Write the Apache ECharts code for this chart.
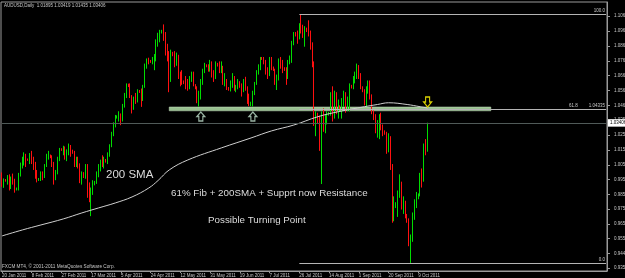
<!DOCTYPE html>
<html><head><meta charset="utf-8">
<script src="https://cdn.jsdelivr.net/npm/echarts@6/dist/echarts.min.js"></script>
<style>html,body{margin:0;padding:0;background:#000;}#c{width:625px;height:278px;}</style>
</head><body><div id="c"></div>
<script>
// ---------- data ----------
const headerText = 'AUDUSD,Daily  1.01895 1.03419 1.01435 1.03406';
const slotCount = 326; // bars on the time axis (incl. empty right margin)
const xTickLabels = ['20 Jan 2011','8 Feb 2011','27 Feb 2011','17 Mar 2011','5 Apr 2011','24 Apr 2011','12 May 2011','31 May 2011','19 Jun 2011','7 Jul 2011','26 Jul 2011','14 Aug 2011','1 Sep 2011','20 Sep 2011','9 Oct 2011'];
const yTickLabels = ['1.10690','1.09670','1.08650','1.07630','1.06640','1.05620','1.04600','1.03590','1.02590','1.01570','1.00550','0.99540','0.98540','0.97520','0.96530','0.95530','0.94490','0.93500'];
const currentPrice = 1.03406;

const opens = [0.9995,0.9915,0.9950,0.9945,0.9968,0.9902,0.9960,0.9935,0.9890,0.9895,
 0.9990,1.0055,1.0095,1.0100,1.0090,1.0088,1.0110,1.0070,1.0060,0.9985,
 0.9955,0.9960,0.9990,0.9975,1.0050,1.0115,1.0120,1.0108,1.0060,0.9960,
 1.0000,1.0095,1.0160,1.0155,1.0165,1.0110,1.0145,1.0180,1.0150,1.0140,
 1.0075,1.0085,1.0050,0.9960,0.9990,0.9975,1.0045,0.9900,0.9850,0.9880,
 0.9930,0.9940,0.9995,1.0050,1.0080,1.0065,1.0085,1.0078,1.0130,1.0185,
 1.0270,1.0335,1.0380,1.0385,1.0395,1.0360,1.0460,1.0530,1.0600,1.0592,
 1.0525,1.0440,1.0510,1.0500,1.0560,1.0550,1.0520,1.0590,1.0730,1.0765,
 1.0760,1.0755,1.0770,1.0800,1.0900,1.0925,1.0960,1.0968,1.0935,1.0830,
 1.0800,1.0640,1.0810,1.0805,1.0760,1.0800,1.0660,1.0640,1.0620,1.0615,
 1.0610,1.0580,1.0650,1.0670,1.0600,1.0580,1.0520,1.0540,1.0620,1.0700,
 1.0730,1.0725,1.0710,1.0710,1.0680,1.0650,1.0740,1.0735,1.0700,1.0720,
 1.0620,1.0630,1.0575,1.0570,1.0610,1.0650,1.0570,1.0590,1.0620,1.0590,
 1.0560,1.0630,1.0580,1.0490,1.0470,1.0480,1.0545,1.0610,1.0690,1.0720,
 1.0780,1.0775,1.0760,1.0690,1.0670,1.0780,1.0720,1.0700,1.0620,1.0640,
 1.0760,1.0750,1.0710,1.0700,1.0650,1.0760,1.0770,1.0890,1.0950,1.0940,
 1.0920,1.1000,1.0970,1.0950,1.0980,1.0965,1.0960,1.0870,1.0750,1.0350,
 1.0400,1.0360,1.0180,1.0400,1.0330,1.0380,1.0400,1.0405,1.0530,1.0390,
 1.0540,1.0420,1.0450,1.0440,1.0480,1.0540,1.0440,1.0500,1.0590,1.0585,
 1.0650,1.0660,1.0720,1.0660,1.0580,1.0560,1.0480,1.0560,1.0610,1.0520,
 1.0420,1.0380,1.0300,1.0330,1.0390,1.0310,1.0280,1.0265,1.0160,1.0240,
 1.0050,0.9720,0.9780,0.9790,0.9850,0.9900,0.9780,0.9800,0.9710,0.9680,
 0.9520,0.9570,0.9710,0.9800,0.9830,0.9850,0.9985,0.9960,1.0180,1.0190];

const highs = [1.0003,0.9962,0.9958,0.9985,0.9990,0.9975,0.9995,0.9960,0.9900,1.0000,
 1.0070,1.0110,1.0140,1.0130,1.0098,1.0135,1.0150,1.0110,1.0075,1.0020,
 0.9965,1.0010,1.0010,1.0060,1.0130,1.0150,1.0125,1.0120,1.0075,1.0020,
 1.0110,1.0170,1.0168,1.0185,1.0180,1.0160,1.0200,1.0190,1.0158,1.0150,
 1.0110,1.0110,1.0065,1.0010,1.0005,1.0060,1.0060,0.9935,0.9900,0.9950,
 0.9945,1.0010,1.0060,1.0090,1.0120,1.0110,1.0095,1.0140,1.0195,1.0280,
 1.0345,1.0395,1.0392,1.0420,1.0405,1.0470,1.0545,1.0610,1.0608,1.0610,
 1.0530,1.0520,1.0545,1.0570,1.0565,1.0575,1.0600,1.0745,1.0780,1.0785,
 1.0770,1.0790,1.0810,1.0910,1.0955,1.0975,1.0975,1.1012,1.0960,1.0880,
 1.0830,1.0840,1.0825,1.0830,1.0820,1.0805,1.0690,1.0700,1.0630,1.0660,
 1.0640,1.0660,1.0690,1.0690,1.0605,1.0590,1.0560,1.0640,1.0710,1.0750,
 1.0740,1.0740,1.0770,1.0760,1.0700,1.0760,1.0750,1.0760,1.0760,1.0730,
 1.0680,1.0640,1.0585,1.0630,1.0680,1.0660,1.0600,1.0640,1.0625,1.0610,
 1.0640,1.0655,1.0590,1.0540,1.0485,1.0560,1.0620,1.0700,1.0740,1.0790,
 1.0790,1.0790,1.0770,1.0720,1.0790,1.0790,1.0725,1.0710,1.0670,1.0780,
 1.0790,1.0770,1.0720,1.0720,1.0770,1.0800,1.0900,1.0960,1.0960,1.0970,
 1.1020,1.1081,1.1010,1.1000,1.0990,1.1040,1.0970,1.0890,1.0760,1.0420,
 1.0410,1.0390,1.0420,1.0440,1.0400,1.0420,1.0415,1.0550,1.0590,1.0560,
 1.0550,1.0500,1.0460,1.0510,1.0560,1.0550,1.0520,1.0610,1.0600,1.0660,
 1.0690,1.0745,1.0735,1.0680,1.0590,1.0570,1.0590,1.0630,1.0630,1.0535,
 1.0425,1.0400,1.0360,1.0400,1.0410,1.0330,1.0290,1.0280,1.0270,1.0250,
 1.0060,0.9840,0.9800,0.9880,0.9990,0.9940,0.9840,0.9810,0.9720,0.9690,
 0.9580,0.9730,0.9820,0.9870,0.9860,1.0000,1.0030,1.0200,1.0230,1.0342];

const lows = [0.9905,0.9898,0.9940,0.9920,0.9880,0.9890,0.9920,0.9865,0.9880,0.9880,
 0.9975,1.0030,1.0050,1.0040,1.0082,1.0060,1.0060,1.0020,0.9960,0.9935,
 0.9945,0.9945,0.9950,0.9965,1.0040,1.0090,1.0100,1.0040,0.9920,0.9950,
 0.9990,1.0080,1.0150,1.0120,1.0090,1.0080,1.0120,1.0110,1.0130,1.0040,
 1.0040,1.0030,0.9930,0.9920,0.9965,0.9960,0.9830,0.9800,0.9705,0.9850,
 0.9915,0.9925,0.9970,1.0010,1.0040,1.0030,1.0070,1.0060,1.0110,1.0175,
 1.0250,1.0310,1.0370,1.0350,1.0325,1.0350,1.0445,1.0510,1.0585,1.0510,
 1.0405,1.0430,1.0470,1.0480,1.0545,1.0450,1.0490,1.0580,1.0710,1.0740,
 1.0750,1.0740,1.0700,1.0760,1.0860,1.0890,1.0950,1.0900,1.0800,1.0760,
 1.0550,1.0620,1.0795,1.0720,1.0730,1.0640,1.0590,1.0600,1.0605,1.0570,
 1.0560,1.0570,1.0620,1.0590,1.0570,1.0475,1.0452,1.0500,1.0600,1.0680,
 1.0720,1.0690,1.0690,1.0650,1.0620,1.0640,1.0725,1.0680,1.0680,1.0600,
 1.0590,1.0565,1.0560,1.0555,1.0580,1.0560,1.0550,1.0570,1.0580,1.0520,
 1.0550,1.0560,1.0470,1.0455,1.0455,1.0452,1.0530,1.0600,1.0670,1.0700,
 1.0770,1.0740,1.0670,1.0640,1.0660,1.0700,1.0695,1.0600,1.0565,1.0630,
 1.0710,1.0680,1.0695,1.0600,1.0640,1.0740,1.0750,1.0870,1.0930,1.0880,
 1.0910,1.0950,1.0920,1.0860,1.0960,1.0930,1.0840,1.0720,1.0320,1.0250,
 1.0340,1.0150,0.9924,1.0280,1.0270,1.0330,1.0390,1.0390,1.0350,1.0370,
 1.0400,1.0370,1.0430,1.0370,1.0450,1.0410,1.0420,1.0420,1.0575,1.0570,
 1.0610,1.0640,1.0640,1.0570,1.0550,1.0460,1.0450,1.0540,1.0500,1.0400,
 1.0360,1.0270,1.0240,1.0230,1.0290,1.0250,1.0260,1.0130,1.0140,1.0020,
 0.9660,0.9670,0.9760,0.9700,0.9830,0.9750,0.9720,0.9690,0.9660,0.9500,
 0.9386,0.9530,0.9680,0.9760,0.9820,0.9840,0.9900,0.9940,1.0120,1.0144];

const closes = [0.9915,0.9950,0.9945,0.9968,0.9902,0.9960,0.9935,0.9890,0.9895,0.9990,
 1.0055,1.0095,1.0100,1.0090,1.0088,1.0110,1.0070,1.0060,0.9985,0.9955,
 0.9960,0.9990,0.9975,1.0050,1.0115,1.0120,1.0108,1.0060,0.9960,1.0000,
 1.0095,1.0160,1.0155,1.0165,1.0110,1.0145,1.0180,1.0150,1.0140,1.0075,
 1.0085,1.0050,0.9960,0.9990,0.9975,1.0045,0.9900,0.9850,0.9880,0.9930,
 0.9940,0.9995,1.0050,1.0080,1.0065,1.0085,1.0078,1.0130,1.0185,1.0270,
 1.0335,1.0380,1.0385,1.0395,1.0360,1.0460,1.0530,1.0600,1.0592,1.0525,
 1.0440,1.0510,1.0500,1.0560,1.0550,1.0520,1.0590,1.0730,1.0765,1.0760,
 1.0755,1.0770,1.0800,1.0900,1.0925,1.0960,1.0968,1.0935,1.0830,1.0800,
 1.0640,1.0810,1.0805,1.0760,1.0800,1.0660,1.0640,1.0620,1.0615,1.0610,
 1.0580,1.0650,1.0670,1.0600,1.0580,1.0520,1.0540,1.0620,1.0700,1.0730,
 1.0725,1.0710,1.0710,1.0680,1.0650,1.0740,1.0735,1.0700,1.0720,1.0620,
 1.0630,1.0575,1.0570,1.0610,1.0650,1.0570,1.0590,1.0620,1.0590,1.0560,
 1.0630,1.0580,1.0490,1.0470,1.0480,1.0545,1.0610,1.0690,1.0720,1.0780,
 1.0775,1.0760,1.0690,1.0670,1.0780,1.0720,1.0700,1.0620,1.0640,1.0760,
 1.0750,1.0710,1.0700,1.0650,1.0760,1.0770,1.0890,1.0950,1.0940,1.0920,
 1.1000,1.0970,1.0950,1.0980,1.0965,1.0960,1.0870,1.0750,1.0350,1.0400,
 1.0360,1.0180,1.0400,1.0330,1.0380,1.0400,1.0405,1.0530,1.0390,1.0540,
 1.0420,1.0450,1.0440,1.0480,1.0540,1.0440,1.0500,1.0590,1.0585,1.0650,
 1.0660,1.0720,1.0660,1.0580,1.0560,1.0480,1.0560,1.0610,1.0520,1.0420,
 1.0380,1.0300,1.0330,1.0390,1.0310,1.0280,1.0265,1.0160,1.0240,1.0050,
 0.9720,0.9780,0.9790,0.9850,0.9900,0.9780,0.9800,0.9710,0.9680,0.9520,
 0.9570,0.9710,0.9800,0.9830,0.9850,0.9985,0.9960,1.0180,1.0175,1.0341];

// 200 SMA: [bar index, value]
const sma200 = [[0,0.9570],[11,0.9611],[21,0.9645],[33,0.9686],[43,0.9727],[52,0.9761],[61,0.9795],[70,0.9836],[79,0.9897],[84,0.9948],[90,1.0020],[100,1.0088],[118,1.0170],[134,1.0238],[145,1.0286],[157,1.0326],[170,1.0383],[181,1.0417],[195,1.0451],[202,1.0466],[208,1.0478],[218,1.0466],[225,1.0451],[229,1.0442]];

// Fibonacci levels (from the Jul high to the Oct low)
const fibLevels = [{name:'100.0', value:1.1081}, {name:'61.8', value:1.04335}, {name:'0.0', value:0.9386}];
const fibStartBar = 160;
// support/resistance band
const bandBars = [90, 263];
const bandPrices = [1.0449, 1.0423];
// arrows
const upArrows = [[107, 1.03843], [135, 1.03843]];
const downArrows = [[229, 1.04831]];

// ---------- build ----------
const monthNames = ['Jan','Feb','Mar','Apr','May','Jun','Jul','Aug','Sep','Oct','Nov','Dec'];
const categories = [];
let d = new Date(Date.UTC(2011, 0, 20));
while (categories.length < slotCount) {
  if (d.getUTCDay() !== 6) categories.push(d.getUTCDate() + ' ' + monthNames[d.getUTCMonth()] + ' ' + d.getUTCFullYear());
  d = new Date(d.getTime() + 86400000);
}
const candleData = opens.map((o, i) => [o, closes[i], lows[i], highs[i]]);

const yMin = 0.93311, yMax = 1.11648;
const small = 'Liberation Sans';
const upPath = 'path://M4,0 L8,4.5 L6,4.5 L6,9 L2,9 L2,4.5 L0,4.5 Z';
const downPath = 'path://M2,0 L6,0 L6,4.5 L8,4.5 L4,9 L0,4.5 L2,4.5 Z';

const chart = echarts.init(document.getElementById('c'), null, {renderer: 'canvas'});
chart.setOption({
  animation: false,
  backgroundColor: '#000',
  grid: {left: 1, right: 18, top: 2, bottom: 7, show: true, borderColor: '#9a9a9a', borderWidth: 1, backgroundColor: '#000', containLabel: false, outerBoundsMode: 'none'},
  xAxis: {
    type: 'category', data: categories, boundaryGap: true,
    axisLine: {show: true, lineStyle: {color: '#9a9a9a'}},
    axisTick: {show: true, alignWithLabel: true, length: 2, interval: (i, v) => xTickLabels.includes(v), lineStyle: {color: '#9a9a9a'}},
    axisLabel: {interval: (i, v) => xTickLabels.includes(v), align: 'left', fontSize: 4.5, fontFamily: small, color: '#c8c8c8', margin: 2},
    splitLine: {show: false}
  },
  yAxis: [{
    type: 'value', position: 'right', min: yMin, max: yMax, scale: true,
    axisLine: {show: true, lineStyle: {color: '#9a9a9a'}},
    axisTick: {show: true, length: 3, customValues: yTickLabels.map(Number), lineStyle: {color: '#9a9a9a'}},
    axisLabel: {customValues: yTickLabels.map(Number), formatter: v => v.toFixed(5), fontSize: 4.5, fontFamily: small, color: '#c8c8c8', margin: 7},
    splitLine: {show: false}
  }, {
    type: 'value', position: 'right', min: yMin, max: yMax, scale: true,
    axisLine: {show: false}, axisTick: {show: false}, splitLine: {show: false},
    axisLabel: {customValues: [currentPrice], formatter: v => v.toFixed(5), fontSize: 4.5, fontFamily: small, color: '#000', backgroundColor: '#ffffff', padding: [1.5, 4, 1, 2], margin: 1}
  }],
  series: [{
    type: 'candlestick', data: candleData, barWidth: 0.8,
    itemStyle: {color: '#00dc00', color0: '#ff1010', borderColor: '#00dc00', borderColor0: '#ff1010', borderWidth: 1},
    emphasis: {disabled: true}, silent: true, z: 3,
    markArea: {
      silent: true,
      itemStyle: {color: '#98c090', borderColor: '#c8e0c0', borderWidth: 0.5},
      data: [[{xAxis: categories[bandBars[0]], yAxis: bandPrices[0]}, {xAxis: categories[bandBars[1]], yAxis: bandPrices[1]}]]
    },
    markLine: {
      silent: true, symbol: ['none', 'none'], animation: false,
      lineStyle: {type: 'solid'},
      data: [
        [{xAxis: categories[0], yAxis: currentPrice, lineStyle: {color: '#505a58', width: 1, type: 'solid'}, label: {show: false}}, {xAxis: categories[slotCount - 1], yAxis: currentPrice}]
      ].concat(fibLevels.map(f => [
        {coord: [categories[fibStartBar], f.value], lineStyle: {color: '#b4b4b4', width: 1, type: 'solid'},
         label: {show: true, position: 'insideEndTop', distance: 1, fontSize: 4.5, fontFamily: small, color: '#c8c8c8',
           formatter: f.name === '61.8' ? '{a|' + f.name + '}{b|' + f.value.toFixed(5) + '}' : f.name,
           rich: {a: {fontSize: 4.5, fontFamily: small, color: '#c8c8c8', padding: [0, 11, 0, 0]}, b: {fontSize: 4.5, fontFamily: small, color: '#c8c8c8'}}}},
        {coord: [categories[slotCount - 1], f.value]}
      ]))
    },
    markPoint: {
      silent: true, label: {show: false},
      data: upArrows.map(a => ({coord: [categories[a[0]], a[1]], symbol: upPath, symbolSize: [8, 9], itemStyle: {color: '#000', borderColor: '#9ab4a4', borderWidth: 1.2}}))
        .concat(downArrows.map(a => ({coord: [categories[a[0]], a[1]], symbol: downPath, symbolSize: [8, 10], itemStyle: {color: '#000', borderColor: '#d8d000', borderWidth: 1.2}})))
    }
  }, {
    type: 'line', data: sma200, smooth: 0.4, symbol: 'none', z: 4, silent: true,
    lineStyle: {color: '#cfcfcf', width: 1}
  }],
  graphic: [
    {type: 'text', x: 4, y: 5.5, silent: true, style: {text: headerText, fill: '#c8c8c8', font: '4.5px "Liberation Sans"', align: 'left', verticalAlign: 'middle', textAlign: 'left', textVerticalAlign: 'middle'}},
    {type: 'text', x: 2, y: 266.5, silent: true, style: {text: 'FXCM MT4, \u00a9 2001-2011 MetaQuotes Software Corp.', fill: '#c8c8c8', font: '4.7px "Liberation Sans"', align: 'left', verticalAlign: 'middle', textAlign: 'left', textVerticalAlign: 'middle'}},
    {type: 'text', x: 106, y: 175, silent: true, style: {text: '200 SMA', fill: '#dcdcdc', font: '11.5px "Liberation Sans"', align: 'left', verticalAlign: 'middle', textAlign: 'left', textVerticalAlign: 'middle'}},
    {type: 'text', x: 171, y: 193.3, silent: true, style: {text: '61% Fib + 200SMA + Supprt now Resistance', fill: '#dcdcdc', font: '9.8px "Liberation Sans"', align: 'left', verticalAlign: 'middle', textAlign: 'left', textVerticalAlign: 'middle'}},
    {type: 'text', x: 208, y: 220, silent: true, style: {text: 'Possible Turning Point', fill: '#dcdcdc', font: '9.8px "Liberation Sans"', align: 'left', verticalAlign: 'middle', textAlign: 'left', textVerticalAlign: 'middle'}}
  ]
});
</script>
</body></html>
